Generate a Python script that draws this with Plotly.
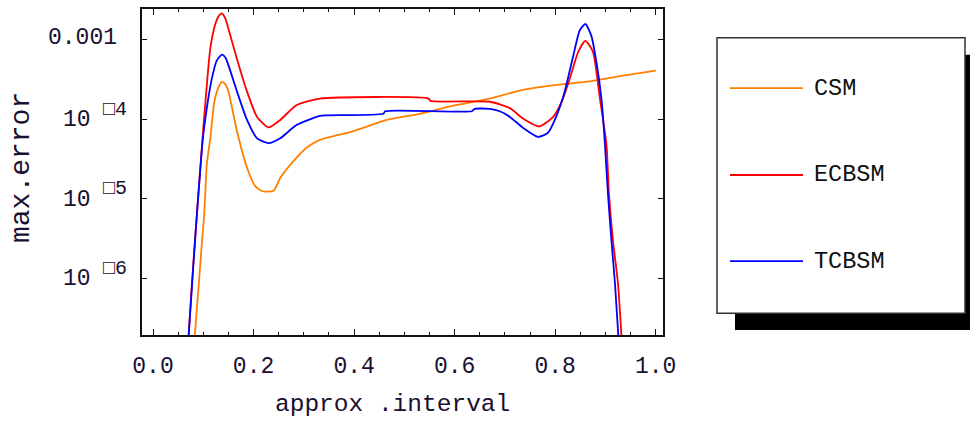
import math
import plotly.graph_objects as go

# ---------------- data ----------------
series_names = ["CSM", "ECBSM", "TCBSM"]
series_colors = ["#FF8000", "#FF0000", "#0000FF"]

csm_x = [0.0815, 0.0907, 0.096, 0.102, 0.107, 0.114, 0.122, 0.130, 0.137, 0.144, 0.150,
         0.167, 0.187, 0.203, 0.215, 0.223, 0.240, 0.253, 0.279, 0.306, 0.332, 0.399,
         0.465, 0.531, 0.597, 0.630, 0.670, 0.736, 0.803, 0.869, 0.935, 1.0]
csm_y = [1.4e-7, 7.8e-7, 2.2e-6, 6.5e-6, 2.7e-5, 5.8e-5, 1.66e-4, 2.5e-4, 2.95e-4, 2.75e-4, 2.24e-4,
         7.1e-5, 2.45e-5, 1.45e-5, 1.26e-5, 1.23e-5, 1.26e-5, 1.82e-5, 2.95e-5, 4.4e-5, 5.5e-5, 7.1e-5,
         9.8e-5, 1.17e-4, 1.48e-4, 1.62e-4, 1.82e-4, 2.34e-4, 2.7e-4, 3.0e-4, 3.55e-4, 4.1e-4]

ecbsm_x = [0.0695, 0.0774, 0.085, 0.092, 0.099, 0.106, 0.114, 0.124, 0.131, 0.137, 0.144, 0.150,
           0.167, 0.187, 0.207, 0.230, 0.253, 0.286, 0.332, 0.548, 0.552, 0.670, 0.710, 0.736,
           0.768, 0.796, 0.813, 0.829, 0.846, 0.860, 0.875, 0.889, 0.902, 0.907, 0.915, 0.925, 0.933]
ecbsm_y = [1.4e-7, 8.5e-7, 4.0e-6, 1.6e-5, 6.3e-5, 2.24e-4, 7.8e-4, 1.58e-3, 2.0e-3, 2.15e-3, 1.85e-3, 1.38e-3,
           5.75e-4, 2.24e-4, 1.07e-4, 7.9e-5, 9.8e-5, 1.51e-4, 1.82e-4, 1.82e-4, 1.70e-4, 1.66e-4, 1.38e-4, 1.02e-4,
           8.1e-5, 1.07e-4, 1.66e-4, 3.24e-4, 7.1e-4, 9.7e-4, 7.1e-4, 1.82e-4, 4.8e-5, 1.15e-5, 2.95e-6, 8.5e-7, 1.4e-7]

tcbsm_x = [0.0695, 0.078, 0.085, 0.092, 0.099, 0.107, 0.117, 0.127, 0.137, 0.144, 0.150,
           0.167, 0.187, 0.207, 0.230, 0.253, 0.286, 0.332, 0.346, 0.458, 0.462, 0.634, 0.640,
           0.670, 0.690, 0.710, 0.736, 0.766, 0.786, 0.803, 0.819, 0.836, 0.849, 0.860, 0.872,
           0.882, 0.892, 0.899, 0.905, 0.912, 0.919, 0.927]
tcbsm_y = [1.4e-7, 8.9e-7, 4.0e-6, 1.6e-5, 5.6e-5, 1.38e-4, 3.24e-4, 5.5e-4, 6.5e-4, 6.0e-4, 4.8e-4,
           2.24e-4, 9.8e-5, 5.75e-5, 5.0e-5, 5.75e-5, 8.5e-5, 1.1e-4, 1.12e-4, 1.17e-4, 1.26e-4, 1.26e-4, 1.35e-4,
           1.35e-4, 1.26e-4, 1.07e-4, 7.8e-5, 6.0e-5, 6.8e-5, 1.12e-4, 2.24e-4, 6.3e-4, 1.32e-3, 1.58e-3, 1.12e-3,
           5.25e-4, 1.82e-4, 4.8e-5, 1.15e-5, 2.95e-6, 8.5e-7, 1.4e-7]

x_tick_vals = [0.0, 0.2, 0.4, 0.6, 0.8, 1.0]
x_tick_text = ["0.0", "0.2", "0.4", "0.6", "0.8", "1.0"]
y_tick_vals = [1e-3, 1e-4, 1e-5, 1e-6]
y_tick_base = ["0.001", "10", "10", "10"]
y_tick_sup = ["", "\u25a14", "\u25a15", "\u25a16"]
x_title = "approx .interval"
y_title = "max.error"

# ---------------- figure ----------------
W, H = 970, 421
ML, MR, MT, MB = 142, 307, 7, 86
PW, PH = W - ML - MR, H - MT - MB
FONT = "Liberation Mono, Courier New, monospace"
TXT = "#1a1030"


def px(xp):
    return (xp - ML) / PW


def py(yp):
    return (H - MB - yp) / PH


fig = go.Figure()
for name, color, xs, ys in zip(series_names, series_colors,
                               [csm_x, ecbsm_x, tcbsm_x], [csm_y, ecbsm_y, tcbsm_y]):
    fig.add_trace(go.Scatter(x=xs, y=ys, mode="lines", name=name,
                             line=dict(color=color, width=1.8, shape="spline", smoothing=0.6),
                             showlegend=False))

fig.update_layout(
    width=W, height=H,
    margin=dict(l=ML, r=MR, t=MT, b=MB, pad=0),
    paper_bgcolor="white", plot_bgcolor="white",
    font=dict(family=FONT, color="#111111"),
    xaxis=dict(range=[-0.0219, 1.0145], showgrid=False, zeroline=False,
               showline=True, linecolor="#111111", linewidth=1.5, mirror="allticks",
               ticks="inside", ticklen=6, tickwidth=1.2, tickcolor="#111111",
               tickvals=x_tick_vals, ticktext=x_tick_text,
               tickfont=dict(family=FONT, size=23, color=TXT),
               ticklabelstandoff=9,
               minor=dict(tickvals=[i * 0.05 for i in range(21)], ticks="inside",
                          ticklen=3, tickwidth=1.2, tickcolor="#111111", showgrid=False)),
    yaxis=dict(type="log", range=[-6.716, -2.6125], showgrid=False, zeroline=False,
               showline=True, linecolor="#111111", linewidth=1.5, mirror="allticks",
               ticks="inside", ticklen=5, tickwidth=1.2, tickcolor="#111111",
               tickvals=y_tick_vals, showticklabels=False),
)

# y tick labels (base number + raised exponent part), placed through the y scale
for v, base, sup in zip(y_tick_vals, y_tick_base, y_tick_sup):
    if sup:
        fig.add_annotation(text=base, xref="paper", yref="y", x=px(93), y=math.log10(v),
                           xanchor="right", yanchor="middle", showarrow=False, yshift=-1,
                           font=dict(family=FONT, size=23, color=TXT))
        fig.add_annotation(text=sup, xref="paper", yref="y", x=px(101), y=math.log10(v),
                           xanchor="left", yanchor="middle", showarrow=False, yshift=10,
                           font=dict(family=FONT, size=20, color=TXT))
    else:
        fig.add_annotation(text=base, xref="paper", yref="y", x=px(119), y=math.log10(v),
                           xanchor="right", yanchor="middle", showarrow=False, yshift=2,
                           font=dict(family=FONT, size=23, color=TXT))

# axis titles
fig.add_annotation(text=x_title, xref="paper", yref="paper", x=px(392.5), y=py(405),
                   xanchor="center", yanchor="middle", showarrow=False,
                   font=dict(family=FONT, size=24.5, color=TXT))
fig.add_annotation(text=y_title, xref="paper", yref="paper", x=px(21), y=py(167),
                   xanchor="center", yanchor="middle", showarrow=False, textangle=-90,
                   font=dict(family=FONT, size=28, color=TXT))

# legend box with shadow
fig.add_shape(type="rect", xref="paper", yref="paper", x0=px(735), x1=px(975), y0=py(330), y1=py(53),
              fillcolor="black", line=dict(width=0), layer="above")
fig.add_shape(type="rect", xref="paper", yref="paper", x0=px(717), x1=px(965), y0=py(313), y1=py(36),
              fillcolor="white", line=dict(color="#333333", width=1.5), layer="above")
legend_rows = [86.7, 174, 260.7]
for name, color, ry in zip(series_names, series_colors, legend_rows):
    fig.add_shape(type="line", xref="paper", yref="paper", x0=px(730), x1=px(803), y0=py(ry), y1=py(ry),
                  line=dict(color=color, width=1.8), layer="above")
    fig.add_annotation(text=name, xref="paper", yref="paper", x=px(812), y=py(ry),
                       xanchor="left", yanchor="middle", showarrow=False,
                       font=dict(family=FONT, size=23.5, color="#111111"))

fig.write_html("out.html")
